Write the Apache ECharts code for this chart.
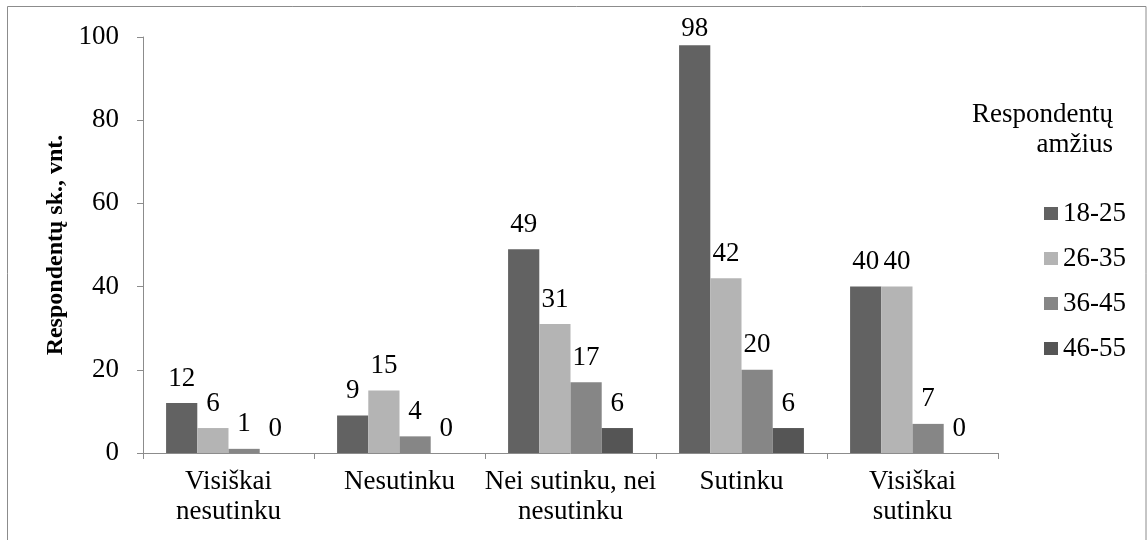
<!DOCTYPE html>
<html>
<head>
<meta charset="utf-8">
<script src="https://cdn.jsdelivr.net/npm/echarts@6/dist/echarts.min.js"></script>
<style>
  html, body { margin: 0; padding: 0; background: #fff; }
  #chart { width: 1147px; height: 540px; }
</style>
</head>
<body>
<div id="chart"></div>
<script>
// Answer categories on the x axis
const categories = ['Visiškai\nnesutinku', 'Nesutinku', 'Nei sutinku, nei\nnesutinku', 'Sutinku', 'Visiškai\nsutinku'];
// Respondent counts per age group
const age18_25 = [12, 9, 49, 98, 40];
const age26_35 = [6, 15, 31, 42, 40];
const age36_45 = [1, 4, 17, 20, 7];
const age46_55 = [0, 0, 6, 6, 0];
const seriesNames = ['18-25', '26-35', '36-45', '46-55'];
const seriesColors = ['#626262', '#b4b4b4', '#868686', '#555555'];
const yTicks = { min: 0, max: 100, interval: 20 };

const FONT = '"Liberation Serif", "Times New Roman", serif';
const chart = echarts.init(document.getElementById('chart'));

// Value labels sit above the bars; near the top of the axis they are
// tucked closer to the bar so they stay inside the chart frame.
const labelDistance = v => (v > 0.9 * yTicks.max ? 3 : 11);

const data = [age18_25, age26_35, age36_45, age46_55];
const series = data.map((vals, i) => ({
  name: seriesNames[i],
  type: 'bar',
  data: vals.map(v => ({ value: v, label: { distance: labelDistance(v) } })),
  barGap: '0%',
  barCategoryGap: '27%',
  itemStyle: { color: seriesColors[i] },
  label: {
    show: true,
    position: 'top',
    color: '#000',
    fontFamily: FONT,
    fontSize: 27
  }
}));

chart.setOption({
  animation: false,
  backgroundColor: '#fff',
  textStyle: { fontFamily: FONT },
  graphic: [
    {
      type: 'rect',
      shape: { x: 7.5, y: 6.5, width: 1138.5, height: 560 },
      style: { fill: 'none', stroke: '#8c8c8c', lineWidth: 1 },
      silent: true
    },
    {
      type: 'text',
      x: 1113,
      y: 100,
      style: {
        text: 'Respondentų\namžius',
        align: 'right',
        verticalAlign: 'top',
        fill: '#000',
        font: '27px ' + FONT,
        lineHeight: 30
      }
    }
  ],
  legend: {
    orient: 'vertical',
    left: 1039,
    top: 195,
    itemWidth: 14,
    itemHeight: 13,
    itemGap: 18,
    icon: 'rect',
    textStyle: { fontFamily: FONT, fontSize: 27, color: '#000' },
    data: seriesNames
  },
  grid: { left: 143, right: 149, top: 37, bottom: 87, containLabel: false },
  xAxis: {
    type: 'category',
    data: categories,
    axisLine: { lineStyle: { color: '#8c8c8c', width: 1 } },
    axisTick: { show: true, length: 6, lineStyle: { color: '#8c8c8c' } },
    axisLabel: {
      color: '#000',
      fontFamily: FONT,
      fontSize: 27,
      lineHeight: 30,
      margin: 14,
      interval: 0
    }
  },
  yAxis: {
    type: 'value',
    min: yTicks.min,
    max: yTicks.max,
    interval: yTicks.interval,
    name: 'Respondentų sk., vnt.',
    nameLocation: 'middle',
    nameGap: 73,
    nameTextStyle: { fontFamily: FONT, fontSize: 24, fontWeight: 'bold', color: '#000' },
    axisLine: { show: true, lineStyle: { color: '#8c8c8c', width: 1 } },
    axisTick: { show: true, length: 6, lineStyle: { color: '#8c8c8c' } },
    splitLine: { show: false },
    axisLabel: { color: '#000', fontFamily: FONT, fontSize: 27, margin: 24 }
  },
  series: series
});
</script>
</body>
</html>
